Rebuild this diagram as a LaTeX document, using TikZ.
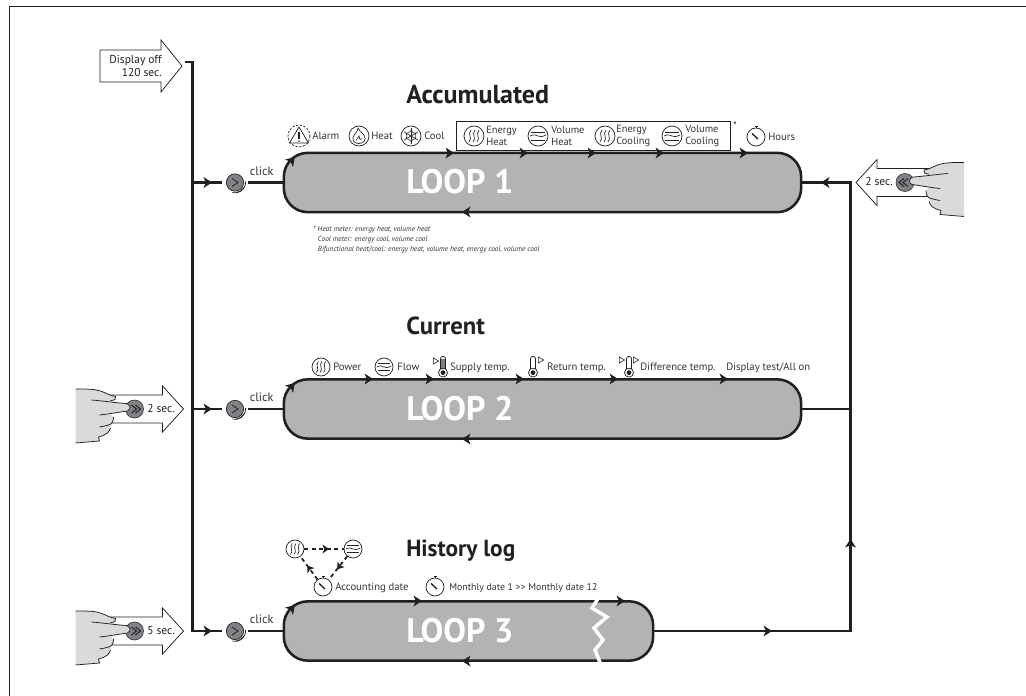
\documentclass[tikz,border=0pt]{standalone}
\usepackage{fontspec}
\setmainfont{PT Sans}
\definecolor{ink}{HTML}{231F20}
\definecolor{txt}{HTML}{333333}
\definecolor{loopgray}{HTML}{B1B3B5}
\definecolor{handgray}{HTML}{D9DADB}
\definecolor{btngray}{HTML}{808285}
\tikzset{
  mainline/.style={draw=ink,line width=1.7pt,line join=miter},
  thin ink/.style={draw=ink,line width=0.55pt},
  loopbox/.style={draw=ink,fill=loopgray,line width=1.9pt,rounded corners=18pt,inner sep=0pt,minimum height=44.5pt},
  looptext/.style={text=white,font=\fontsize{25.5}{28}\selectfont\bfseries,inner sep=0pt,anchor=base west},
  heading/.style={text=ink,inner sep=0pt,anchor=base west},
  lab/.style={text=txt,font=\fontsize{8}{9}\selectfont,inner sep=0pt,anchor=mid west},
  clicklab/.style={text=txt,font=\fontsize{9.2}{10}\selectfont,inner sep=0pt,anchor=mid west},
  seclab/.style={text=ink,font=\fontsize{8.6}{10}\selectfont,inner sep=0pt,anchor=mid west},
  twolab/.style={text=txt,font=\fontsize{7.8}{8.6}\selectfont,inner sep=0pt,anchor=west,align=left},
  notelab/.style={text=txt,font=\fontsize{5.5}{7.5}\selectfont\itshape,inner sep=0pt,anchor=north west,align=left},
  btnnode/.style={circle,draw=ink,fill=btngray,line width=0.5pt,minimum size=13pt,inner sep=0pt},
  tipmark/.pic={\fill[ink] (4,0)--(-4.5,-5.5)--(-2.2,0)--(-4.5,5.5)--cycle;},
  tinytip/.pic={\fill[ink] (3,0)--(-3.5,-4.5)--(-1.7,0)--(-3.5,4.5)--cycle;},
  clickmark/.pic={
    \draw[ink,line width=0.6pt] (-3,-4)--(3,0)--(-3,4);
    \draw[ink,line width=0.55pt] (10.5,-1) arc[start angle=-5,end angle=105,radius=10.5];
    \draw[ink,line width=0.55pt] (8.8,5) arc[start angle=29,end angle=85,radius=10.1];
  },
  pressarrow/.pic={
    \draw[thin ink,fill=white,line join=miter] (24,-14)--(-28,-14)--(-28,-23)--(-49,0)--(-28,23)--(-28,14)--(24,14);
  },
  pressbtn/.pic={\fill[btngray] (0,0) circle[radius=9]; \draw[ink,line width=0.4pt] (0,0) circle[radius=9];},
  presshand/.pic={
    \fill[handgray] (59,-20) .. controls (48,-20) and (40,-20) .. (34,-18) .. controls (28,-16) and (24,-13) .. (19,-12.5) -- (19,-9) -- (23,-8) -- (8,-5.5) .. controls (4,-4) and (3,0) .. (7,2) -- (24,5) -- (21,8) .. controls (21,12) and (22,15) .. (24,16.5) -- (24,19) .. controls (25,23) and (28,26) .. (36,28) -- (35,32) -- (59,34) -- cycle;
    \draw[thin ink] (59,-20) .. controls (48,-20) and (40,-20) .. (34,-18) .. controls (28,-16) and (24,-13) .. (19,-12.5) .. controls (18,-10) and (20,-8.5) .. (24,-8.5);
    \draw[thin ink] (43,-9) .. controls (30,-8) and (18,-6) .. (8,-5.5) .. controls (4,-4) and (3,0) .. (7,2) .. controls (15,3) and (25,5) .. (35,6);
    \draw[thin ink] (21,8) .. controls (21,12) and (22,15) .. (26,16) .. controls (29,17) and (32,17.5) .. (35,18);
    \draw[thin ink] (24,19) .. controls (25,23) and (28,26) .. (36,28);
    \draw[thin ink] (36,28) -- (35,32) -- (59,34);
  },
  chev/.pic={
    \draw[ink,line width=0.75pt] (-1,-4)--(-6,0)--(-1,4);
    \draw[ink,line width=0.75pt] (3,-4)--(-2,0)--(3,4);
  },
  energyicon/.pic={
    \draw[thin ink] (0,0) circle[radius=10];
    \foreach \q in {-4,0,4}{\draw[ink,line width=0.5pt] (\q+1,-6) .. controls (\q-3,-2) and (\q+3,2) .. (\q-1,6);}
  },
  volumeicon/.pic={
    \draw[thin ink] (0,0) circle[radius=10];
    \draw[ink,line width=0.5pt] (-7,-4)--(7,-4) (-7,4)--(7,4);
    \draw[ink,line width=0.5pt] (-8,0) .. controls (-4,-2) and (-2,-1) .. (0,0) .. controls (2,1) and (4,1) .. (8,-1);
  },
  clockicon/.pic={
    \draw[thin ink] (0,0) circle[radius=9];
    \draw[ink,line width=0.9pt] (-1.5,-10.3)--(1.5,-10.3);
    \draw[ink,line width=0.5pt] (0,-9)--(0,-10.3);
    \draw[ink,line width=1pt] (-4,-3.5)--(2,2);
  },
  alarmicon/.pic={
    \draw[ink,line width=0.55pt,dash pattern=on 1.6pt off 1.2pt] (0,0) circle[radius=11];
    \draw[thin ink,line join=round] (0,-9)--(9.5,7)--(-9.5,7)--cycle;
    \draw[ink,line width=0.9pt] (0,-4)--(0,2.5);
    \fill[ink] (0,5) circle[radius=0.9];
  },
  flameicon/.pic={
    \draw[thin ink] (0,0) circle[radius=10];
    \draw[ink,line width=0.5pt,line join=round] (-1,-8) .. controls (0,-4) and (7,-2) .. (6,3) .. controls (5.5,6.5) and (2,7.5) .. (0,7.5) .. controls (-3,7.5) and (-6.5,6) .. (-6,2) .. controls (-5.5,-2) and (-1,-4) .. (-1,-8);
    \draw[ink,line width=0.5pt] (-3,4.5) -- (0,0) -- (1,3.5) -- (3,2.5);
  },
  snowicon/.pic={
    \draw[thin ink] (0,0) circle[radius=10];
    \foreach \q in {30,90,150}{\draw[ink,line width=0.5pt,rotate=\q] (-8,0)--(8,0);}
    \foreach \q in {30,90,150,210,270,330}{\draw[ink,line width=0.4pt,rotate=\q] (3.5,-2)--(5.5,0)--(3.5,2);}
  },
  thermo/.pic={
    \draw[thin ink] (-2.6,2.8) -- (-2.6,-7) .. controls (-2.6,-10.4) and (2.6,-10.4) .. (2.6,-7) -- (2.6,2.8);
    \draw[thin ink] (0,6.6) circle[radius=4.5];
    \fill[ink] (0,6.6) circle[radius=2.4];
  },
  thermofill/.pic={\fill[gray] (-2.4,-7.5) rectangle (2.4,3);},
  ttri/.pic={\draw[ink,line width=0.45pt,line join=miter] (-2.6,-3)--(2.6,0)--(-2.6,3)--cycle;},
}
\begin{document}
\begin{tikzpicture}[x=0.75pt,y=-0.75pt]
\useasboundingbox (0,0) rectangle (1026,696);
% frame
\coordinate (frameA) at (9.5,696);
\coordinate (frameB) at (9.5,6.5);
\coordinate (frameC) at (1026,6.5);
\draw[ink,line width=0.6pt] (frameA)--(frameB)--(frameC);

% loops
\node[loopbox,minimum width=388pt] (loop1) at (542.5,182.5) {};
\node[loopbox,minimum width=388pt] (loop2) at (542.5,409) {};
\node[loopbox,minimum width=277pt] (loop3) at (468.5,631) {};
\node[looptext] (t1) at (406,193.5) {LOOP 1};
\node[looptext] (t2) at (406,420) {LOOP 2};
\node[looptext] (t3) at (406,642) {LOOP 3};
% zigzag break
\draw[white,line width=2.6pt,line join=miter] (599,597)--(592,608)--(607,617)--(594,628)--(603,640)--(595,650)--(601,665);

% junctions
\coordinate (dispEnd) at (185,62);
\coordinate (j1) at (192.5,182.5);
\coordinate (j2) at (192.5,409);
\coordinate (j3) at (192.5,631);
\coordinate (r1) at (850.5,182.5);
\coordinate (r2) at (850.5,409);
\coordinate (r3) at (850.5,631);

% buttons
\node[btnnode] (b1) at (235,182.5) {};
\node[btnnode] (b2) at (235,409) {};
\node[btnnode] (b3) at (235,631) {};
\foreach \p in {b1,b2,b3}{\pic at (\p) {clickmark};}

% connectors
\draw[mainline,shorten >=3pt] (dispEnd) -- (dispEnd -| j3) -- (j3) -- (b3);
\draw[mainline,shorten >=3pt] (j1) -- (b1);
\draw[mainline,shorten >=3pt] (j2) -- (b2);
\draw[mainline,shorten <=3pt] (b1) -- (loop1.west);
\draw[mainline,shorten <=3pt] (b2) -- (loop2.west);
\draw[mainline,shorten <=3pt] (b3) -- (loop3.west);
\draw[mainline] (loop3.east) -- (r3) -- (r1) -- (loop1.east);
\draw[mainline] (loop2.east) -- (r2);

% arrowheads on lines
\foreach \q/\w in {208/182.5,208/409,208/631,768/631}{\pic at (\q,\w) {tipmark};}
\pic[rotate=90] at (850.5,543) {tipmark};
\pic[rotate=180] at (825,182.5) {tipmark};
\foreach \q in {450,524,592,660,744}{\pic at (\q,153) {tipmark};}
\foreach \q in {369,430,520,614,724}{\pic at (\q,379) {tipmark};}
\foreach \q in {418,621}{\pic at (\q,601) {tipmark};}
\pic[rotate=180] at (466,212) {tipmark};
\pic[rotate=180] at (466,439) {tipmark};
\pic[rotate=180] at (466,661) {tipmark};
\pic[rotate=48] at (292,160) {tipmark};
\pic[rotate=48] at (292,386) {tipmark};
\pic[rotate=48] at (292,608) {tipmark};

% click labels
\node[clicklab] (c1) at (249.5,172) {click};
\node[clicklab] (c2) at (249.5,398) {click};
\node[clicklab] (c3) at (249.5,620) {click};

% headings
\node[heading,font=\fontsize{19.5}{22}\selectfont\bfseries] (h1) at (406,103) {Accumulated};
\node[heading,font=\fontsize{18.5}{22}\selectfont\bfseries] (h2) at (406,334) {Current};
\node[heading,font=\fontsize{17.5}{22}\selectfont\bfseries] (h3) at (406,556) {History log};

% display off arrow
\coordinate (da1) at (100,50);
\draw[thin ink,fill=white,line join=miter] (da1) -- (161,50) -- (161,40) -- (182,66) -- (161,92) -- (161,82) -- (100,82) -- cycle;
\node[text=ink,font=\fontsize{8.6}{9.8}\selectfont,inner sep=0pt,align=right,anchor=east] (disp) at (162,66) {Display off\\120 sec.};

% press arrows, hands
\pic[xscale=-1] at (134.5,409) {pressarrow};
\pic[xscale=-1] at (134.5,409) {pressbtn};
\pic[xscale=-1] at (134.5,409) {presshand};
\pic[xscale=-1] at (134.5,409) {chev};
\node[seclab] (s2) at (147,409) {2 sec.};
\pic[xscale=-1] at (134.5,631) {pressarrow};
\pic[xscale=-1] at (134.5,631) {pressbtn};
\pic[xscale=-1] at (134.5,631) {presshand};
\pic[xscale=-1] at (134.5,631) {chev};
\node[seclab] (s3) at (147,631) {5 sec.};
\pic at (905,182.5) {pressarrow};
\pic at (905,182.5) {pressbtn};
\pic at (905,182.5) {presshand};
\pic at (905,182.5) {chev};
\node[seclab] (s1) at (865,182.5) {2 sec.};

% loop 1 labels
\pic at (299,136) {alarmicon};
\node[lab] (l1a) at (312,136) {Alarm};
\pic at (359,136) {flameicon};
\node[lab] (l1b) at (371,136) {Heat};
\pic at (411,136) {snowicon};
\node[lab] (l1c) at (424,136) {Cool};
\node[draw=ink,line width=0.6pt,inner sep=0pt,minimum width=205pt,minimum height=21.5pt] (meterbox) at (593.5,136) {};
\node[text=txt,font=\fontsize{8}{9}\selectfont,inner sep=0pt] (star) at (735,126) {*};
\pic at (474,136) {energyicon};
\node[twolab] (l1d) at (486,136) {Energy\\Heat};
\pic at (538,136) {volumeicon};
\node[twolab] (l1e) at (551,136) {Volume\\Heat};
\pic at (605,136) {energyicon};
\node[twolab] (l1f) at (616,136) {Energy\\Cooling};
\pic at (672,136) {volumeicon};
\node[twolab] (l1g) at (685,136) {Volume\\Cooling};
\pic at (756,137) {clockicon};
\node[lab] (l1h) at (768,137) {Hours};
\node[notelab] (note) at (313,225.5) {* Heat meter: energy heat, volume heat\\\hspace*{3.5pt}Cool meter: energy cool, volume cool\\\hspace*{3.5pt}Bifunctional heat/cool: energy heat, volume heat, energy cool, volume cool};

% loop 2 labels
\pic[scale=0.9] at (321,367) {energyicon};
\node[lab] (l2a) at (333,367) {Power};
\pic[scale=0.9] at (384,367) {volumeicon};
\node[lab] (l2b) at (397,367) {Flow};
\pic at (443,366) {thermofill};
\pic at (443,366) {thermo};
\pic at (436,361) {ttri};
\node[lab] (l2c) at (450,367) {Supply temp.};
\pic at (533,366) {thermo};
\pic at (541,360) {ttri};
\node[lab] (l2d) at (547,367) {Return temp.};
\pic at (629,366) {thermo};
\pic at (622,360) {ttri};
\pic at (636,360) {ttri};
\node[lab] (l2e) at (640,367) {Difference temp.};
\node[lab] (l2f) at (726,367) {Display test/All on};

% loop 3 labels
\node[circle,minimum size=13.5pt,inner sep=0pt] (ck) at (323,587) {};
\node[circle,minimum size=13.5pt,inner sep=0pt] (pw) at (295,549) {};
\node[circle,minimum size=13.5pt,inner sep=0pt] (fl) at (353,549) {};
\pic at (ck) {clockicon};
\pic[scale=0.9] at (pw) {energyicon};
\pic[scale=0.9] at (fl) {volumeicon};
\node[lab] (l3a) at (335,587) {Accounting date};
\pic at (435,587) {clockicon};
\node[lab,font=\fontsize{7.4}{9}\selectfont] (l3b) at (449,587) {Monthly date 1 {>}{>} Monthly date 12};
\draw[ink,line width=1.3pt,dash pattern=on 3pt off 2.6pt] (pw) -- (fl);
\draw[ink,line width=1.3pt,dash pattern=on 3pt off 2.6pt] (fl) -- (ck);
\draw[ink,line width=1.3pt,dash pattern=on 3pt off 2.6pt] (ck) -- (pw);
\pic at (326,549) {tinytip};
\pic[rotate=126] at (309,568) {tinytip};
\pic[rotate=232] at (339,567) {tinytip};
\end{tikzpicture}
\end{document}
